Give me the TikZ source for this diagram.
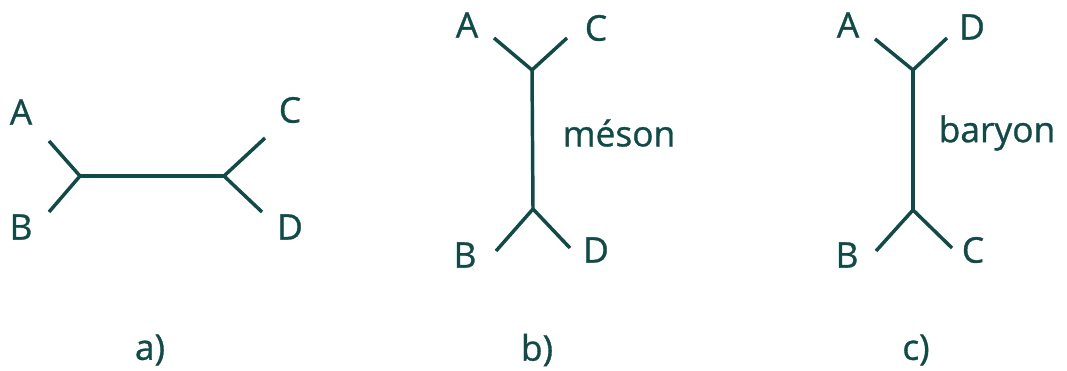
\documentclass[tikz,border=0pt]{standalone}
\usepackage{fontspec}
\setmainfont{Open Sans}
\newfontfamily\lblfont{Open Sans}[FakeBold=0.9]
\definecolor{ink}{RGB}{18,74,72}
\begin{document}
\begin{tikzpicture}[x=0.75pt,y=-0.75pt,
  line/.style={draw=ink,line width=2.6pt},
  lbl/.style={text=ink,font=\lblfont\fontsize{26.5}{29}\selectfont,inner sep=0pt,anchor=center}]
\useasboundingbox (0,0) rectangle (1067,371);
% a)
\coordinate (a1) at (80,176);
\coordinate (a2) at (224,176);
\coordinate (aA) at (49,141);
\coordinate (aB) at (49,212);
\coordinate (aC) at (265,138);
\coordinate (aD) at (262,212);
\draw[line] (aA) -- (a1) -- (aB);
\draw[line] (a1) -- (a2);
\draw[line] (aC) -- (a2) -- (aD);
\node[lbl] (tA1) at (21,112) {A};
\node[lbl] (tB1) at (21,227) {B};
\node[lbl] (tC1) at (290,110) {C};
\node[lbl] (tD1) at (290,227) {D};
\node[lbl] (capa) at (150,350) {a)};
% b)
\coordinate (b1) at (532,70);
\coordinate (b2) at (533,209);
\coordinate (bA) at (494,38);
\coordinate (bC) at (567,38);
\coordinate (bB) at (496,251);
\coordinate (bD) at (570,248);
\draw[line] (bA) -- (b1) -- (bC);
\draw[line] (b1) -- (b2);
\draw[line] (bB) -- (b2) -- (bD);
\node[lbl] (tA2) at (467,25) {A};
\node[lbl] (tC2) at (596,28) {C};
\node[lbl] (tB2) at (465,255) {B};
\node[lbl] (tD2) at (596,250) {D};
\node[lbl] (meson) at (619,133) {méson};
\node[lbl] (capb) at (537,350) {b)};
% c)
\coordinate (c1) at (913,70);
\coordinate (c2) at (913,210);
\coordinate (cA) at (875,39);
\coordinate (cD) at (947,38);
\coordinate (cB) at (876,251);
\coordinate (cC) at (952,248);
\draw[line] (cA) -- (c1) -- (cD);
\draw[line] (c1) -- (c2);
\draw[line] (cB) -- (c2) -- (cC);
\node[lbl] (tA3) at (848,25) {A};
\node[lbl] (tD3) at (972,27) {D};
\node[lbl] (tB3) at (847,255) {B};
\node[lbl] (tC3) at (973,250) {C};
\node[lbl] (baryon) at (997,133) {baryon};
\node[lbl] (capc) at (916,350) {c)};
\end{tikzpicture}
\end{document}
